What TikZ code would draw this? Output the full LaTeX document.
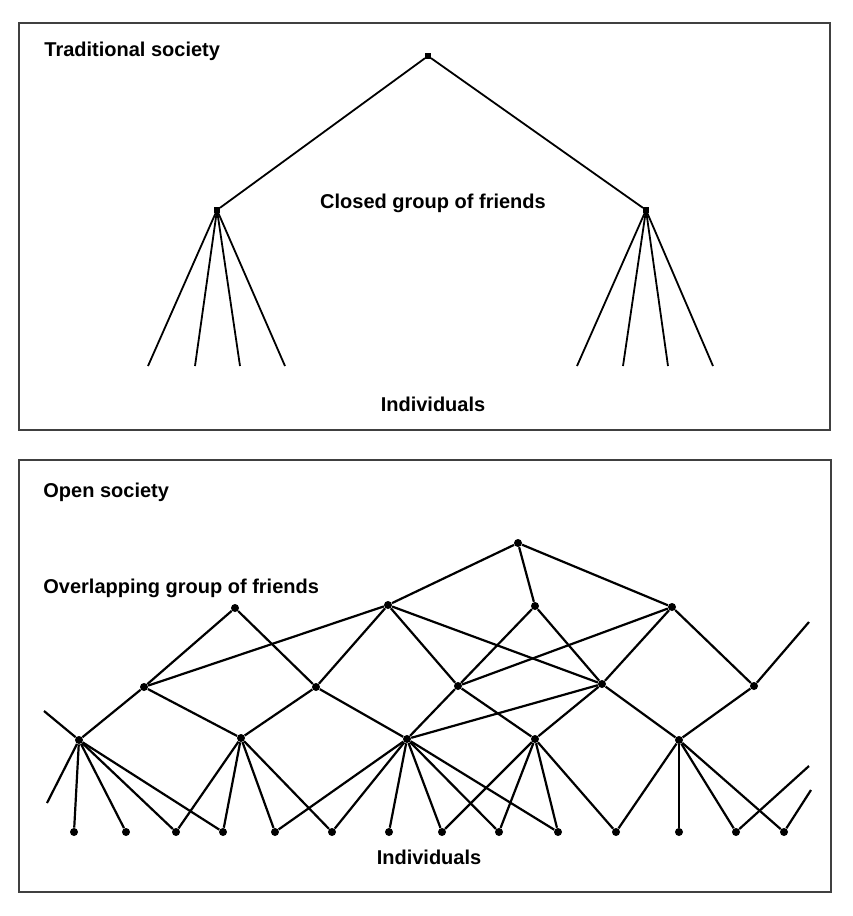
\documentclass[tikz,border=0pt]{standalone}
\usepackage{fontspec}
\setmainfont{Liberation Sans}
\tikzset{
  frame/.style={draw=black!75, line width=1pt},
  lbl/.style={font=\bfseries\fontsize{10}{12}\selectfont, inner sep=0pt},
  knot/.style={rectangle, fill, inner sep=0pt, minimum size=2.6pt},
  dot/.style={circle, fill, inner sep=0pt, minimum size=4pt},
  link/.style={line width=0.9pt},
  mesh/.style={line width=1.1pt},
}
\begin{document}
\begin{tikzpicture}[x=0.5pt,y=-0.5pt]
  \useasboundingbox (0,0) rectangle (852,916);

  % traditional society
  \draw[frame] (19,23) rectangle (830,430);
  \node[lbl,anchor=west] (trad) at (44,51) {Traditional society};
  \node[lbl] (closed) at (433,203) {Closed group of friends};
  \node[lbl] (indtop) at (433,404) {Individuals};

  \node[knot] (root)  at (428,56)  {};
  \node[knot] (left)  at (217,210) {};
  \node[knot] (right) at (646,210) {};
  \draw[link] (left) -- (root) -- (right);
  \foreach \x [count=\i] in {148,195,240,285} {
    \coordinate (l\i) at (\x,366);
    \draw[link] (left) -- (l\i);
  }
  \foreach \x [count=\i] in {577,623,668,713} {
    \coordinate (r\i) at (\x,366);
    \draw[link] (right) -- (r\i);
  }

  % open society
  \draw[frame] (19,460) rectangle (831,892);
  \node[lbl,anchor=west] (open) at (43,492) {Open society};
  \node[lbl,anchor=west] (overlap) at (43,588) {Overlapping group of friends};
  \node[lbl] (indbot) at (429,857) {Individuals};

  \node[dot] (t1) at (518,543) {};
  \node[dot] (u1) at (235,608) {};
  \node[dot] (u2) at (388,605) {};
  \node[dot] (u3) at (535,606) {};
  \node[dot] (u4) at (672,607) {};
  \node[dot] (v1) at (144,687) {};
  \node[dot] (v2) at (316,687) {};
  \node[dot] (v3) at (458,686) {};
  \node[dot] (v4) at (602,684) {};
  \node[dot] (v5) at (754,686) {};
  \node[dot] (w1) at (79,740)  {};
  \node[dot] (w2) at (241,738) {};
  \node[dot] (w3) at (407,739) {};
  \node[dot] (w4) at (535,739) {};
  \node[dot] (w5) at (679,740) {};
  \foreach \x [count=\i] in {74,126,176,223,275,332,389,442,499,558,616,679,736,784}
    \node[dot] (i\i) at (\x,832) {};

  % loose ends
  \coordinate (e1) at (809,622);
  \coordinate (e2) at (44,711);
  \coordinate (e3) at (47,803);
  \coordinate (e4) at (809,766);
  \coordinate (e5) at (811,790);

  \foreach \a/\b in {t1/u2,t1/u3,t1/u4,
      u1/v1,u1/v2,u2/v1,u2/v2,u2/v3,u2/v4,u3/v3,u3/v4,u4/v3,u4/v4,u4/v5,v5/e1,
      v1/w1,v1/w2,v2/w2,v2/w3,v3/w3,v3/w4,v4/w3,v4/w4,v4/w5,v5/w5,
      w1/e2,w1/e3,w1/i1,w1/i2,w1/i3,w1/i4,
      w2/i3,w2/i4,w2/i5,w2/i6,
      w3/i5,w3/i6,w3/i7,w3/i8,w3/i9,w3/i10,
      w4/i8,w4/i9,w4/i10,w4/i11,
      w5/i11,w5/i13,w5/i14,i13/e4,i14/e5}
    \draw[mesh] (\a) -- (\b);
  \draw[mesh,line width=0.6pt] (w5) -- (i12);
\end{tikzpicture}
\end{document}
